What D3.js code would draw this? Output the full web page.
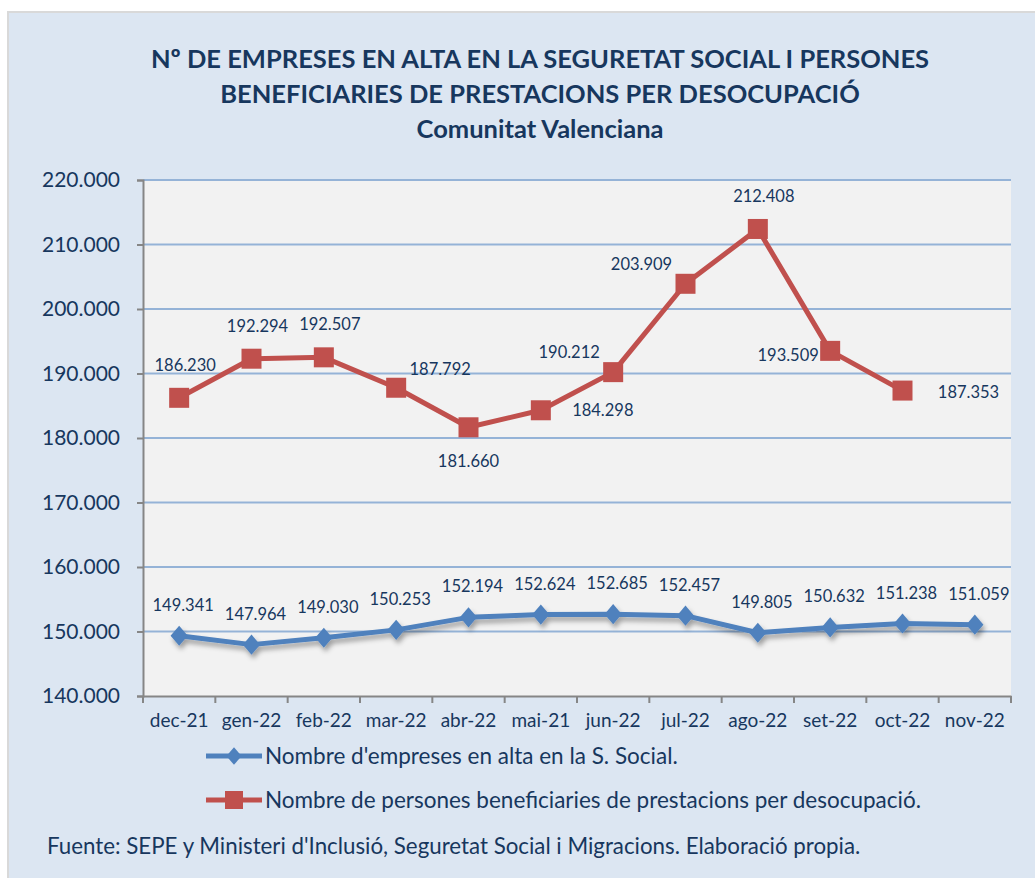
<!DOCTYPE html>
<html lang="ca">
<head>
<meta charset="utf-8">
<title>Empreses en alta i persones beneficiaries</title>
<script src="https://cdn.jsdelivr.net/npm/d3@7"></script>
<style>
  body { margin: 0; background: #fff; }
  text { font-family: Lato, "Open Sans", sans-serif; fill: #17375e; }
</style>
</head>
<body>
<div id="chart"></div>
<script>
// data
var months = ["dec-21", "gen-22", "feb-22", "mar-22", "abr-22", "mai-21",
              "jun-22", "jul-22", "ago-22", "set-22", "oct-22", "nov-22"];
var empreses = [149341, 147964, 149030, 150253, 152194, 152624,
                152685, 152457, 149805, 150632, 151238, 151059];
var beneficiaries = [186230, 192294, 192507, 187792, 181660, 184298,
                     190212, 203909, 212408, 193509, 187353];
var yTicks = [140000, 150000, 160000, 170000, 180000, 190000, 200000, 210000, 220000];
// where excel put each red label relative to its marker
var redLabelPos = ["above", "above", "above", "aboveRight", "below", "right",
                   "aboveLeft", "aboveLeft", "above", "left", "farRight"];

var W = 1035, H = 878;
var blue = "#4f81bd", red = "#c0504d";
var fmt = function(v) { return d3.format(",")(v).replace(/,/g, "."); };

var svg = d3.select("#chart").append("svg")
    .attr("width", W).attr("height", H);

var defs = svg.append("defs");
var f = defs.append("filter").attr("id", "shadow")
    .attr("x", "-10%").attr("y", "-50%").attr("width", "120%").attr("height", "200%");
f.append("feDropShadow").attr("dx", 2).attr("dy", 4).attr("stdDeviation", 2.5)
    .attr("flood-color", "#000").attr("flood-opacity", 0.35);

// outer panel
svg.append("rect").attr("x", 8).attr("y", 12).attr("width", W).attr("height", H)
    .attr("fill", "#dce6f2").attr("stroke", "#d9d9d9").attr("stroke-width", 2);

// title
var title = ["Nº DE EMPRESES EN ALTA EN LA SEGURETAT SOCIAL I PERSONES",
             "BENEFICIARIES DE PRESTACIONS PER DESOCUPACIÓ",
             "Comunitat Valenciana"];
svg.selectAll(".title").data(title).enter().append("text")
    .attr("class", "title")
    .attr("x", 540).attr("y", function(d, i) { return 68 + i * 35; })
    .attr("text-anchor", "middle")
    .attr("font-size", "25.5px").attr("font-weight", "bold")
    .text(function(d) { return d; });

var pLeft = 143, pRight = 1011, pTop = 180, pBottom = 696;

var x = d3.scaleBand().domain(months).range([pLeft, pRight]);
var y = d3.scaleLinear().domain([140000, 220000]).range([pBottom, pTop]);

// plot area
svg.append("rect").attr("x", pLeft).attr("y", pTop)
    .attr("width", pRight - pLeft).attr("height", pBottom - pTop).attr("fill", "#f2f2f2");

// gridlines
svg.append("g").selectAll("line").data(yTicks.slice(1)).enter().append("line")
    .attr("x1", pLeft).attr("x2", pRight)
    .attr("y1", function(d) { return y(d); }).attr("y2", function(d) { return y(d); })
    .attr("stroke", "#95b3d7").attr("stroke-width", 2);

// y axis
var yAxis = svg.append("g").attr("transform", "translate(" + pLeft + ",0)")
    .call(d3.axisLeft(y).tickValues(yTicks).tickFormat(fmt).tickSize(6).tickPadding(17));
yAxis.select(".domain").attr("stroke", "#868686").attr("stroke-width", 2);
yAxis.selectAll(".tick line").attr("stroke", "#868686").attr("stroke-width", 2);
yAxis.selectAll("text").attr("font-size", "21px").attr("fill", "#17375e")
    .attr("font-family", "Lato, sans-serif");

// x axis with ticks between categories
var xAxis = svg.append("g").attr("transform", "translate(0," + pBottom + ")")
    .call(d3.axisBottom(x).tickSize(0).tickPadding(18));
xAxis.select(".domain").attr("stroke", "#868686").attr("stroke-width", 2);
xAxis.selectAll("text").attr("font-size", "19px").attr("fill", "#17375e")
    .attr("font-family", "Lato, sans-serif");
xAxis.selectAll(".sep").data(d3.range(months.length + 1)).enter().append("line")
    .attr("class", "sep")
    .attr("x1", function(i) { return pLeft + i * x.step(); })
    .attr("x2", function(i) { return pLeft + i * x.step(); })
    .attr("y1", 0).attr("y2", 7)
    .attr("stroke", "#868686").attr("stroke-width", 2);

var cx = function(d, i) { return x(months[i]) + x.bandwidth() / 2; };
var line = d3.line().x(cx).y(function(d) { return y(d); });

// blue series
var gb = svg.append("g").attr("filter", "url(#shadow)");
gb.append("path").datum(empreses).attr("d", line)
    .attr("fill", "none").attr("stroke", blue).attr("stroke-width", 5)
    .attr("stroke-linejoin", "round");
gb.selectAll("path.m").data(empreses).enter().append("path").attr("class", "m")
    .attr("d", d3.symbol(d3.symbolDiamond2, 260)())
    .attr("transform", function(d, i) { return "translate(" + cx(d, i) + "," + y(d) + ") scale(0.85,1)"; })
    .attr("fill", blue);

svg.selectAll(".lb").data(empreses).enter().append("text").attr("class", "lb")
    .attr("x", function(d, i) { return cx(d, i) + 4; })
    .attr("y", function(d) { return y(d) - 25; })
    .attr("text-anchor", "middle").attr("font-size", "16.5px")
    .text(fmt);

// red series
svg.append("path").datum(beneficiaries).attr("d", line)
    .attr("fill", "none").attr("stroke", red).attr("stroke-width", 5)
    .attr("stroke-linejoin", "round");
svg.selectAll("rect.m").data(beneficiaries).enter().append("rect").attr("class", "m")
    .attr("x", function(d, i) { return cx(d, i) - 10; })
    .attr("y", function(d) { return y(d) - 10; })
    .attr("width", 20).attr("height", 20).attr("fill", red);

var offs = {
  above: [6, -27], below: [0, 40], right: [62, 6], left: [-42, 10],
  aboveRight: [44, -13], aboveLeft: [-44, -14], farRight: [66, 7]
};
svg.selectAll(".lr").data(beneficiaries).enter().append("text").attr("class", "lr")
    .attr("x", function(d, i) { return cx(d, i) + offs[redLabelPos[i]][0]; })
    .attr("y", function(d, i) { return y(d) + offs[redLabelPos[i]][1]; })
    .attr("text-anchor", "middle").attr("font-size", "16.5px")
    .text(fmt);

// legend
var legend = [
  { name: "Nombre d'empreses en alta en la S. Social.", color: blue, shape: "diamond" },
  { name: "Nombre de persones beneficiaries de prestacions per desocupació.", color: red, shape: "square" }
];
var lg = svg.selectAll(".leg").data(legend).enter().append("g").attr("class", "leg")
    .attr("transform", function(d, i) { return "translate(206," + (756 + i * 44) + ")"; });
lg.append("line").attr("x1", 0).attr("x2", 56).attr("stroke", function(d) { return d.color; })
    .attr("stroke-width", 5);
lg.filter(function(d) { return d.shape == "diamond"; }).append("path")
    .attr("d", d3.symbol(d3.symbolDiamond2, 200)())
    .attr("transform", "translate(28,0) scale(0.85,1)").attr("fill", blue);
lg.filter(function(d) { return d.shape == "square"; }).append("rect")
    .attr("x", 19).attr("y", -9).attr("width", 18).attr("height", 18).attr("fill", red);
lg.append("text").attr("x", 59).attr("y", 8).attr("font-size", "22.5px")
    .text(function(d) { return d.name; });

svg.append("text").attr("x", 47).attr("y", 854).attr("font-size", "22.3px")
    .text("Fuente: SEPE y Ministeri d'Inclusió, Seguretat Social i Migracions. Elaboració propia.");
</script>
</body>
</html>
